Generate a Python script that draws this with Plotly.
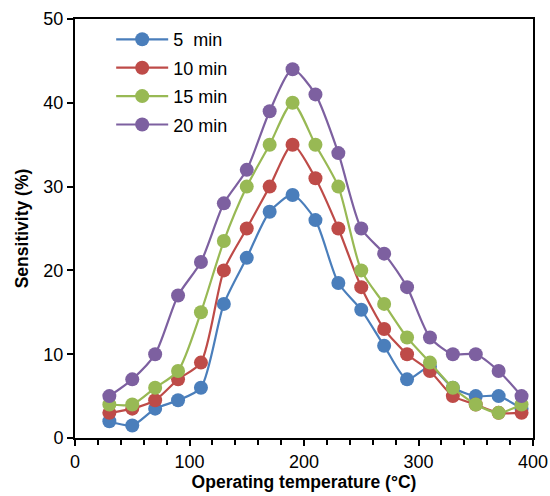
import plotly.graph_objects as go

temps = [30, 50, 70, 90, 110, 130, 150, 170, 190, 210, 230, 250, 270, 290, 310, 330, 350, 370, 390]
s5 = [2, 1.5, 3.5, 4.5, 6, 16, 21.5, 27, 29, 26, 18.5, 15.3, 11, 7, 8.5, 6, 5, 5, 3.5]
s10 = [3, 3.5, 4.5, 7, 9, 20, 25, 30, 35, 31, 25, 18, 13, 10, 8, 5, 4, 3, 3]
s15 = [4, 4, 6, 8, 15, 23.5, 30, 35, 40, 35, 30, 20, 16, 12, 9, 6, 4, 3, 4]
s20 = [5, 7, 10, 17, 21, 28, 32, 39, 44, 41, 34, 25, 22, 18, 12, 10, 10, 8, 5]

names = ["5  min", "10 min", "15 min", "20 min"]
series = [s5, s10, s15, s20]
colors = ["#4A7EBB", "#BE4B48", "#98B954", "#7D60A0"]

FONT = "Liberation Sans, Arial"

fig = go.Figure()
for i, (n, s, c) in enumerate(zip(names, series, colors)):
    fig.add_trace(go.Scatter(
        x=temps, y=s, name=n, mode="lines+markers",
        line=dict(color=c, width=2.2, shape="spline", smoothing=0.7),
        marker=dict(color=c, size=14),
        legendgroup=f"g{i}",
    ))

axis_common = dict(
    showline=True, linecolor="black", linewidth=2, mirror=True,
    ticks="outside", ticklen=6, tickwidth=1.5, tickcolor="black",
    showgrid=False, zeroline=False, automargin=False,
    tickfont=dict(family=FONT, size=18, color="black"),
)

fig.update_xaxes(
    range=[0, 400], dtick=100, tick0=0,
    minor=dict(dtick=20, ticks="outside", ticklen=5, tickwidth=1.5, tickcolor="black"),
    title=dict(text="<b>Operating temperature (°C)</b>", standoff=2,
               font=dict(family=FONT, size=17.5, color="black")),
    **axis_common,
)
fig.update_yaxes(
    range=[0, 50], dtick=10,
    title=dict(text="<b>Sensitivity (%)</b>", standoff=10,
               font=dict(family=FONT, size=17.5, color="black")),
    **axis_common,
)

fig.update_layout(
    width=550, height=496,
    margin=dict(l=75, r=17, t=19, b=58),
    plot_bgcolor="white", paper_bgcolor="white",
    legend=dict(
        x=0.079, y=0.995, xanchor="left", yanchor="top",
        font=dict(family=FONT, size=18, color="black"),
        bgcolor="rgba(0,0,0,0)", tracegroupgap=2, itemwidth=52,
    ),
)

fig.write_html(
    "out.html",
    config={"displayModeBar": False},
    post_script="document.body.style.margin='0';document.body.style.overflow='hidden';",
)
